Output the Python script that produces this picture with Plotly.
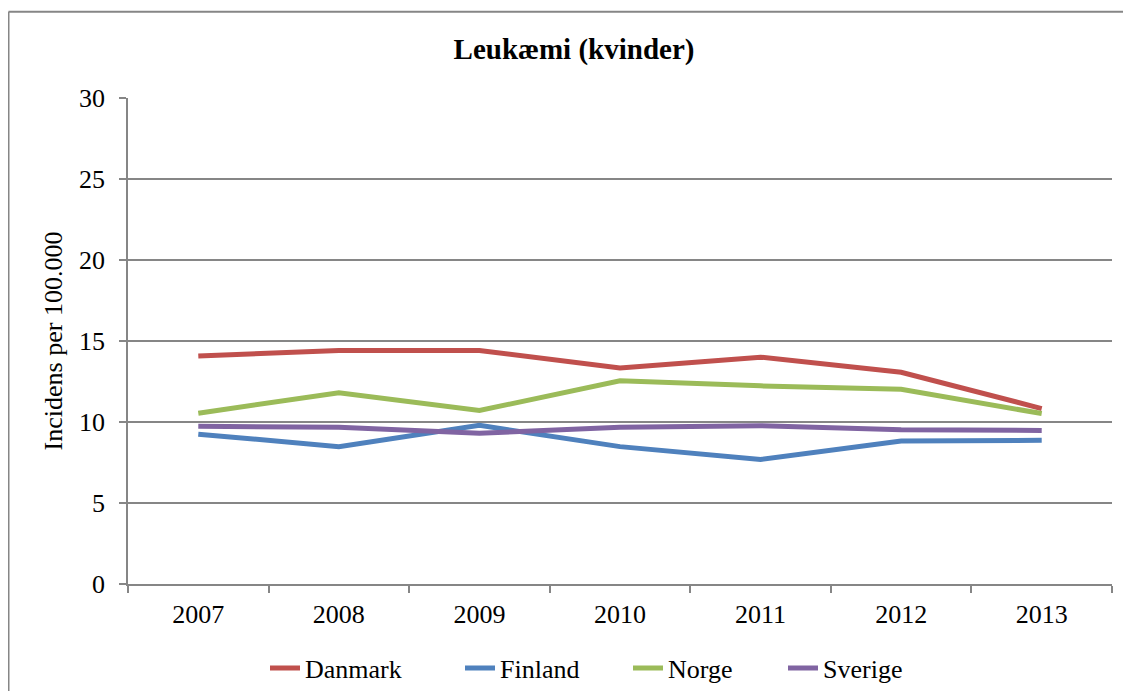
import plotly.graph_objects as go

years = ["2007", "2008", "2009", "2010", "2011", "2012", "2013"]
danmark = [14.07, 14.42, 14.42, 13.34, 14.0, 13.07, 10.83]
finland = [9.25, 8.48, 9.79, 8.48, 7.69, 8.83, 8.87]
norge = [10.54, 11.81, 10.71, 12.54, 12.23, 12.02, 10.52]
sverige = [9.73, 9.67, 9.31, 9.67, 9.77, 9.52, 9.48]

series = [
    ("Danmark", danmark, "#C0504D", 150),
    ("Finland", finland, "#4F81BD", 123),
    ("Norge", norge, "#9BBB59", 110),
    ("Sverige", sverige, "#8064A2", 90),
]

font = "Liberation Serif, Times New Roman, serif"
grid = "#868686"

W, H = 1115, 683  # page body has an 8px margin on every side
L, R, T, B = 120, 11, 90, 107
plot_w = W - L - R
plot_h = H - T - B

fig = go.Figure()
for name, vals, color, lw in series:
    fig.add_trace(go.Scatter(x=years, y=vals, name=name, mode="lines",
                             line=dict(color=color, width=5), legendwidth=lw))

bx0 = (0.5 - L) / plot_w
bx1 = (W - L) / plot_w
by0 = -B / plot_h
by1 = (plot_h + T - 3.7) / plot_h

fig.update_layout(
    width=W, height=H,
    margin=dict(l=L, r=R, t=T, b=B, autoexpand=False),
    paper_bgcolor="white", plot_bgcolor="white",
    font=dict(family=font, size=26, color="black"),
    title=dict(text="<b>Leukæmi (kvinder)</b>", x=(574 - 8) / W, xanchor="center",
               xref="container", yref="container", y=1 - 41 / H, yanchor="middle",
               font=dict(family=font, size=29, color="black")),
    showlegend=True,
    legend=dict(orientation="h", xref="container", x=(265 - 8) / W, xanchor="left",
                yref="container", y=1 - 660 / H, yanchor="middle",
                font=dict(family=font, size=26), bgcolor="rgba(0,0,0,0)",
                borderwidth=0, itemwidth=30, tracegroupgap=0),
    shapes=[
        dict(type="line", xref="paper", yref="paper", x0=bx0, x1=bx1, y0=by1, y1=by1,
             line=dict(color=grid, width=2), layer="below"),
        dict(type="line", xref="paper", yref="paper", x0=bx0, x1=bx0, y0=by0, y1=by1,
             line=dict(color=grid, width=2), layer="below"),
    ],
)

fig.update_xaxes(type="category", range=[-0.5, 6.5], showgrid=False,
                 showline=True, linecolor=grid, linewidth=1.5,
                 ticks="outside", tickson="boundaries", ticklen=7, tickcolor=grid,
                 tickwidth=1.5, ticklabelstandoff=6, tickfont=dict(family=font, size=26))
fig.update_yaxes(range=[0, 30], dtick=5, showgrid=True, gridcolor=grid, gridwidth=1.5,
                 showline=True, linecolor=grid, linewidth=1.5, zeroline=False,
                 ticks="outside", ticklen=7, tickcolor=grid, tickwidth=1.5,
                 ticklabelstandoff=9, tickfont=dict(family=font, size=26),
                 title=dict(text="Incidens per 100.000", standoff=9,
                            font=dict(family=font, size=26)))

fig.write_html("out.html")
